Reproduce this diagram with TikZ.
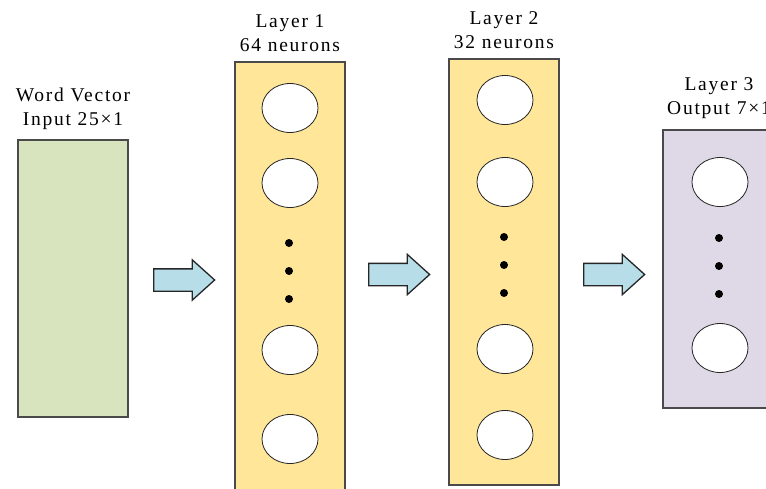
\documentclass[tikz,border=0pt]{standalone}
\usepackage{fontspec}
\setmainfont{Liberation Serif}[LetterSpace=9]
\usetikzlibrary{shapes.arrows,shapes.geometric}
\definecolor{ingreen}{HTML}{D7E4BD}
\definecolor{layyellow}{HTML}{FFE699}
\definecolor{laylilac}{HTML}{DFD8E7}
\definecolor{arrblue}{HTML}{B7DEE8}
\definecolor{edgegray}{HTML}{4A4A4A}
\tikzset{
  layerbox/.style={draw=edgegray, line width=1.2pt},
  neuron/.style={ellipse, draw=black!85, fill=white, line width=0.8pt, minimum width=56pt, minimum height=49pt, inner sep=0pt},
  dotn/.style={circle, fill=black, minimum size=8pt, inner sep=0pt},
  blockarrow/.style={single arrow, draw=black!85, fill=arrblue, line width=1.3pt, inner sep=0pt, inner ysep=10.5pt, single arrow head extend=9pt, single arrow tip angle=84, minimum height=61pt, anchor=tail},
  lbl/.style={align=center, font=\fontsize{19.5}{24}\selectfont, inner sep=0pt}
}
\begin{document}
\begin{tikzpicture}[x=1pt,y=-1pt]
\useasboundingbox (0,0) rectangle (766,488);
% boxes
\filldraw[layerbox, fill=ingreen] (18,140) rectangle (128,417);
\filldraw[layerbox, fill=layyellow] (235,62) rectangle (345,495);
\filldraw[layerbox, fill=layyellow] (449,59) rectangle (559,485);
\filldraw[layerbox, fill=laylilac] (663,130) rectangle (780,408);
% labels
\node[lbl] (tin) at (73,109) {Word Vector\\Input 25×1};
\node[lbl] (t1) at (290,33) {Layer 1\\64 neurons};
\node[lbl] (t2) at (504,30) {Layer 2\\32 neurons};
\node[lbl] (t3) at (719,98) {Layer 3\\Output 7×1};
% layer 1
\node[neuron] (a1) at (290,108) {};
\node[neuron] (a2) at (290,183) {};
\node[dotn] (ad1) at (289,243) {};
\node[dotn] (ad2) at (289,271) {};
\node[dotn] (ad3) at (289,299) {};
\node[neuron] (a3) at (290,350) {};
\node[neuron] (a4) at (290,439) {};
% layer 2
\node[neuron] (b1) at (505,100) {};
\node[neuron] (b2) at (505,182) {};
\node[dotn] (bd1) at (504,237) {};
\node[dotn] (bd2) at (504,265) {};
\node[dotn] (bd3) at (504,293) {};
\node[neuron] (b3) at (505,349) {};
\node[neuron] (b4) at (505,435) {};
% layer 3
\node[neuron] (c1) at (720,182) {};
\node[dotn] (cd1) at (719,238) {};
\node[dotn] (cd2) at (719,266) {};
\node[dotn] (cd3) at (719,294) {};
\node[neuron] (c2) at (720,348) {};
% arrows
\node[blockarrow] (ar1) at (153,280) {};
\node[blockarrow] (ar2) at (368,274.5) {};
\node[blockarrow] (ar3) at (583,274.5) {};
\end{tikzpicture}
\end{document}
